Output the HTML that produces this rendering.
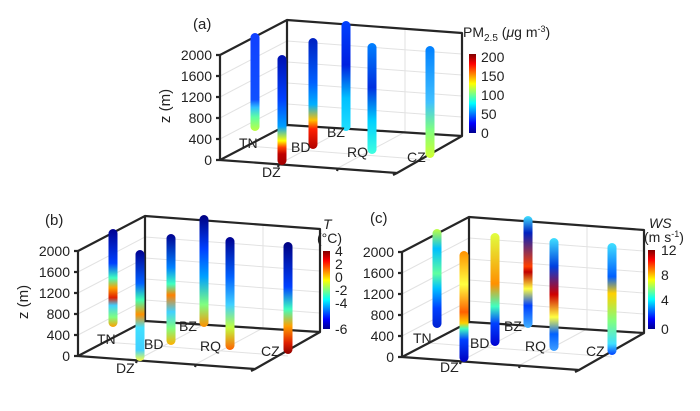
<!DOCTYPE html>
<html><head><style>body{margin:0;background:#fff}svg{display:block}text{font-family:"Liberation Sans",sans-serif;fill:#222}</style></head>
<body>
<svg width="700" height="411" viewBox="0 0 700 411" xmlns="http://www.w3.org/2000/svg">
<defs>
<linearGradient id="jet" x1="0" y1="1" x2="0" y2="0">
<stop offset="0" stop-color="#00008f"/><stop offset=".125" stop-color="#0000ff"/><stop offset=".375" stop-color="#00ffff"/><stop offset=".625" stop-color="#ffff00"/><stop offset=".875" stop-color="#ff0000"/><stop offset="1" stop-color="#800000"/></linearGradient>
<linearGradient id="a1" x1="0" y1="0" x2="0" y2="1"><stop offset="0" stop-color="#1040ff"/><stop offset=".68" stop-color="#1050ff"/><stop offset=".76" stop-color="#30c0ff"/><stop offset=".86" stop-color="#60ffa0"/><stop offset="1" stop-color="#c0ff40"/></linearGradient>
<linearGradient id="a2" x1="0" y1="0" x2="0" y2="1"><stop offset="0" stop-color="#0010b0"/><stop offset=".4" stop-color="#0040ff"/><stop offset=".65" stop-color="#00a0ff"/><stop offset=".78" stop-color="#ffff00"/><stop offset=".84" stop-color="#ff4000"/><stop offset=".9" stop-color="#c00000"/><stop offset="1" stop-color="#a00000"/></linearGradient>
<linearGradient id="a3" x1="0" y1="0" x2="0" y2="1"><stop offset="0" stop-color="#0020c0"/><stop offset=".4" stop-color="#0060ff"/><stop offset=".6" stop-color="#00b0ff"/><stop offset=".74" stop-color="#ffc000"/><stop offset=".82" stop-color="#ff2000"/><stop offset="1" stop-color="#b00000"/></linearGradient>
<linearGradient id="a4" x1="0" y1="0" x2="0" y2="1"><stop offset="0" stop-color="#0040ff"/><stop offset=".4" stop-color="#0020e0"/><stop offset=".7" stop-color="#00c0ff"/><stop offset="1" stop-color="#20e0ff"/></linearGradient>
<linearGradient id="a5" x1="0" y1="0" x2="0" y2="1"><stop offset="0" stop-color="#0080ff"/><stop offset=".4" stop-color="#0030e0"/><stop offset=".7" stop-color="#00d0ff"/><stop offset="1" stop-color="#40ffe0"/></linearGradient>
<linearGradient id="a6" x1="0" y1="0" x2="0" y2="1"><stop offset="0" stop-color="#0080ff"/><stop offset=".5" stop-color="#40c0ff"/><stop offset=".75" stop-color="#80ff80"/><stop offset="1" stop-color="#d0ff30"/></linearGradient>
<linearGradient id="b1" x1="0" y1="0" x2="0" y2="1"><stop offset="0" stop-color="#000090"/><stop offset=".35" stop-color="#0040ff"/><stop offset=".5" stop-color="#40ffc0"/><stop offset=".6" stop-color="#ffa000"/><stop offset=".7" stop-color="#e02000"/><stop offset=".78" stop-color="#40d0ff"/><stop offset=".9" stop-color="#80ff80"/><stop offset="1" stop-color="#ffa000"/></linearGradient>
<linearGradient id="b2" x1="0" y1="0" x2="0" y2="1"><stop offset="0" stop-color="#000090"/><stop offset=".3" stop-color="#0060ff"/><stop offset=".45" stop-color="#40ffb0"/><stop offset=".58" stop-color="#ff9000"/><stop offset=".7" stop-color="#40e0ff"/><stop offset=".9" stop-color="#40d0ff"/><stop offset="1" stop-color="#ffff40"/></linearGradient>
<linearGradient id="b3" x1="0" y1="0" x2="0" y2="1"><stop offset="0" stop-color="#000090"/><stop offset=".3" stop-color="#0080ff"/><stop offset=".45" stop-color="#40ffc0"/><stop offset=".55" stop-color="#ff8000"/><stop offset=".7" stop-color="#40d0ff"/><stop offset=".85" stop-color="#80ff80"/><stop offset="1" stop-color="#ffb000"/></linearGradient>
<linearGradient id="b4" x1="0" y1="0" x2="0" y2="1"><stop offset="0" stop-color="#000080"/><stop offset=".3" stop-color="#0040ff"/><stop offset=".55" stop-color="#00a0ff"/><stop offset=".8" stop-color="#80ff80"/><stop offset="1" stop-color="#ff9000"/></linearGradient>
<linearGradient id="b5" x1="0" y1="0" x2="0" y2="1"><stop offset="0" stop-color="#000090"/><stop offset=".35" stop-color="#0060ff"/><stop offset=".6" stop-color="#40d0ff"/><stop offset=".8" stop-color="#c0ff40"/><stop offset="1" stop-color="#ff6000"/></linearGradient>
<linearGradient id="b6" x1="0" y1="0" x2="0" y2="1"><stop offset="0" stop-color="#000080"/><stop offset=".4" stop-color="#0040ff"/><stop offset=".6" stop-color="#40ffc0"/><stop offset=".75" stop-color="#ffa000"/><stop offset=".9" stop-color="#e02000"/><stop offset="1" stop-color="#900000"/></linearGradient>
<linearGradient id="c1" x1="0" y1="0" x2="0" y2="1"><stop offset="0" stop-color="#c0ff40"/><stop offset=".2" stop-color="#00c0ff"/><stop offset=".45" stop-color="#60ffa0"/><stop offset=".6" stop-color="#00c0ff"/><stop offset=".8" stop-color="#0040ff"/><stop offset="1" stop-color="#0020d0"/></linearGradient>
<linearGradient id="c2" x1="0" y1="0" x2="0" y2="1"><stop offset="0" stop-color="#ff9000"/><stop offset=".3" stop-color="#ffff40"/><stop offset=".55" stop-color="#ff6000"/><stop offset=".65" stop-color="#ffd000"/><stop offset=".7" stop-color="#40ffc0"/><stop offset=".8" stop-color="#0040ff"/><stop offset="1" stop-color="#0000c0"/></linearGradient>
<linearGradient id="c3" x1="0" y1="0" x2="0" y2="1"><stop offset="0" stop-color="#e0ff40"/><stop offset=".45" stop-color="#ff9000"/><stop offset=".65" stop-color="#40ffc0"/><stop offset=".8" stop-color="#0040ff"/><stop offset="1" stop-color="#0000d0"/></linearGradient>
<linearGradient id="c4" x1="0" y1="0" x2="0" y2="1"><stop offset="0" stop-color="#40e0ff"/><stop offset=".15" stop-color="#0020c0"/><stop offset=".45" stop-color="#ff4000"/><stop offset=".5" stop-color="#c00000"/><stop offset=".65" stop-color="#ffff40"/><stop offset=".8" stop-color="#0040ff"/><stop offset="1" stop-color="#40b0ff"/></linearGradient>
<linearGradient id="c5" x1="0" y1="0" x2="0" y2="1"><stop offset="0" stop-color="#40e0ff"/><stop offset=".25" stop-color="#0040e0"/><stop offset=".5" stop-color="#d00000"/><stop offset=".7" stop-color="#ffff40"/><stop offset=".85" stop-color="#0060ff"/><stop offset="1" stop-color="#40a0ff"/></linearGradient>
<linearGradient id="c6" x1="0" y1="0" x2="0" y2="1"><stop offset="0" stop-color="#40e0ff"/><stop offset=".3" stop-color="#0060ff"/><stop offset=".45" stop-color="#ffd000"/><stop offset=".7" stop-color="#80ff80"/><stop offset=".9" stop-color="#40e0ff"/><stop offset="1" stop-color="#0040ff"/></linearGradient>

<g id="frame">
 <g stroke="#e2e2e2" stroke-width="1" fill="none">
  <path d="M287,104 L462,117 M287,83 L462,96 M287,62 L462,75 M287,41 L462,54 M287,20 L462,33"/>
  <path d="M220,139 L287,104 M220,118 L287,83 M220,97 L287,62 M220,76 L287,41"/>
  <path d="M405,29 L405,132 M345,25 L345,129"/>
  <path d="M279,164 L345,129 M338,168 L405,132 M247,146 L430,160"/>
 </g>
 <g stroke="#262626" stroke-width="2.2" fill="none" stroke-linejoin="round">
  <path d="M220,55 L220,160 L397,173 L462,136"/>
  <path d="M220,55 L287,20 L462,33 L462,136 L287,125 L220,160"/>
  <path d="M287,20 L287,125"/>
  <path d="M220,160 L216,160 M220,139 L216,139 M220,118 L216,118 M220,97 L216,97 M220,76 L216,76 M220,55 L216,55"/>
  <path d="M338,168 L337,171 M279,164 L278,167 M397,173 L393,175"/>
 </g>
 <g font-size="14" text-anchor="end">
  <text x="212" y="165">0</text><text x="212" y="144">400</text><text x="212" y="123">800</text><text x="212" y="102">1200</text><text x="212" y="81">1600</text><text x="212" y="60">2000</text>
 </g>
</g>
</defs>

<g>
 <use href="#frame"/>
 <text x="170" y="106" font-size="15" transform="rotate(-90 170 106)" text-anchor="middle">z (m)</text>
 <text x="193" y="29" font-size="15">(a)</text>
 <rect x="250.5" y="33" width="9" height="98" rx="4.5" fill="url(#a1)"/>
 <rect x="277.5" y="55" width="9" height="110" rx="4.5" fill="url(#a2)"/>
 <rect x="308.5" y="38" width="9" height="111" rx="4.5" fill="url(#a3)"/>
 <rect x="341.5" y="21" width="9" height="110" rx="4.5" fill="url(#a4)"/>
 <rect x="367.5" y="43" width="9" height="111" rx="4.5" fill="url(#a5)"/>
 <rect x="425.5" y="46" width="9" height="112" rx="4.5" fill="url(#a6)"/>
 <g font-size="14"><text x="239" y="148">TN</text><text x="262" y="177">DZ</text><text x="291" y="152">BD</text><text x="327" y="137">BZ</text><text x="347" y="157">RQ</text><text x="407" y="162">CZ</text></g>
 <rect x="469" y="54" width="7" height="79" fill="url(#jet)"/>
 <g font-size="14"><text x="481" y="62">200</text><text x="481" y="81">150</text><text x="481" y="100">100</text><text x="481" y="119">50</text><text x="481" y="138">0</text>
 <text x="463" y="37">PM<tspan font-size="10" dy="4">2.5</tspan><tspan dy="-4"> (</tspan><tspan font-style="italic">μ</tspan>g m<tspan font-size="9" dy="-5">-3</tspan><tspan dy="5">)</tspan></text></g>
</g>

<g transform="translate(-142,196)">
 <use href="#frame"/>
 <text x="170" y="106" font-size="15" transform="rotate(-90 170 106)" text-anchor="middle">z (m)</text>
 <text x="187" y="29" font-size="15">(b)</text>
 <rect x="250.5" y="33" width="9" height="98" rx="4.5" fill="url(#b1)"/>
 <rect x="277.5" y="54" width="9" height="111" rx="4.5" fill="url(#b2)"/>
 <rect x="308.5" y="38" width="9" height="111" rx="4.5" fill="url(#b3)"/>
 <rect x="341.5" y="19" width="9" height="112" rx="4.5" fill="url(#b4)"/>
 <rect x="367.5" y="41" width="9" height="113" rx="4.5" fill="url(#b5)"/>
 <rect x="425.5" y="46" width="9" height="112" rx="4.5" fill="url(#b6)"/>
 <g font-size="14"><text x="239" y="148">TN</text><text x="258" y="177">DZ</text><text x="286" y="153">BD</text><text x="321" y="135">BZ</text><text x="342" y="155">RQ</text><text x="403" y="160">CZ</text></g>
 <rect x="465" y="55" width="7" height="78" fill="url(#jet)"/>
 <g font-size="14"><text x="477" y="60">4</text><text x="477" y="73">2</text><text x="477" y="86">0</text><text x="477" y="99">-2</text><text x="477" y="112">-4</text><text x="477" y="138">-6</text>
 <text x="465" y="33" font-style="italic">T</text><text x="459" y="47">(°C)</text></g>
</g>

<g transform="translate(182,197)">
 <use href="#frame"/>
 <text x="188" y="26" font-size="15">(c)</text>
 <rect x="250.5" y="32" width="9" height="99" rx="4.5" fill="url(#c1)"/>
 <rect x="277.5" y="54" width="9" height="111" rx="4.5" fill="url(#c2)"/>
 <rect x="308.5" y="36" width="9" height="113" rx="4.5" fill="url(#c3)"/>
 <rect x="341.5" y="19" width="9" height="112" rx="4.5" fill="url(#c4)"/>
 <rect x="367.5" y="41" width="9" height="113" rx="4.5" fill="url(#c5)"/>
 <rect x="425.5" y="46" width="9" height="112" rx="4.5" fill="url(#c6)"/>
 <g font-size="14"><text x="231" y="146">TN</text><text x="258" y="175">DZ</text><text x="288" y="151">BD</text><text x="322" y="134">BZ</text><text x="343" y="154">RQ</text><text x="404" y="159">CZ</text></g>
 <rect x="466" y="53" width="7" height="79" fill="url(#jet)"/>
 <g font-size="14"><text x="479" y="58">12</text><text x="479" y="83">8</text><text x="479" y="108">4</text><text x="479" y="137">0</text>
 <text x="467" y="31" font-style="italic">WS</text><text x="462" y="45">(m s<tspan font-size="9" dy="-5">-1</tspan><tspan dy="5">)</tspan></text></g>
</g>
</svg>
</body></html>
